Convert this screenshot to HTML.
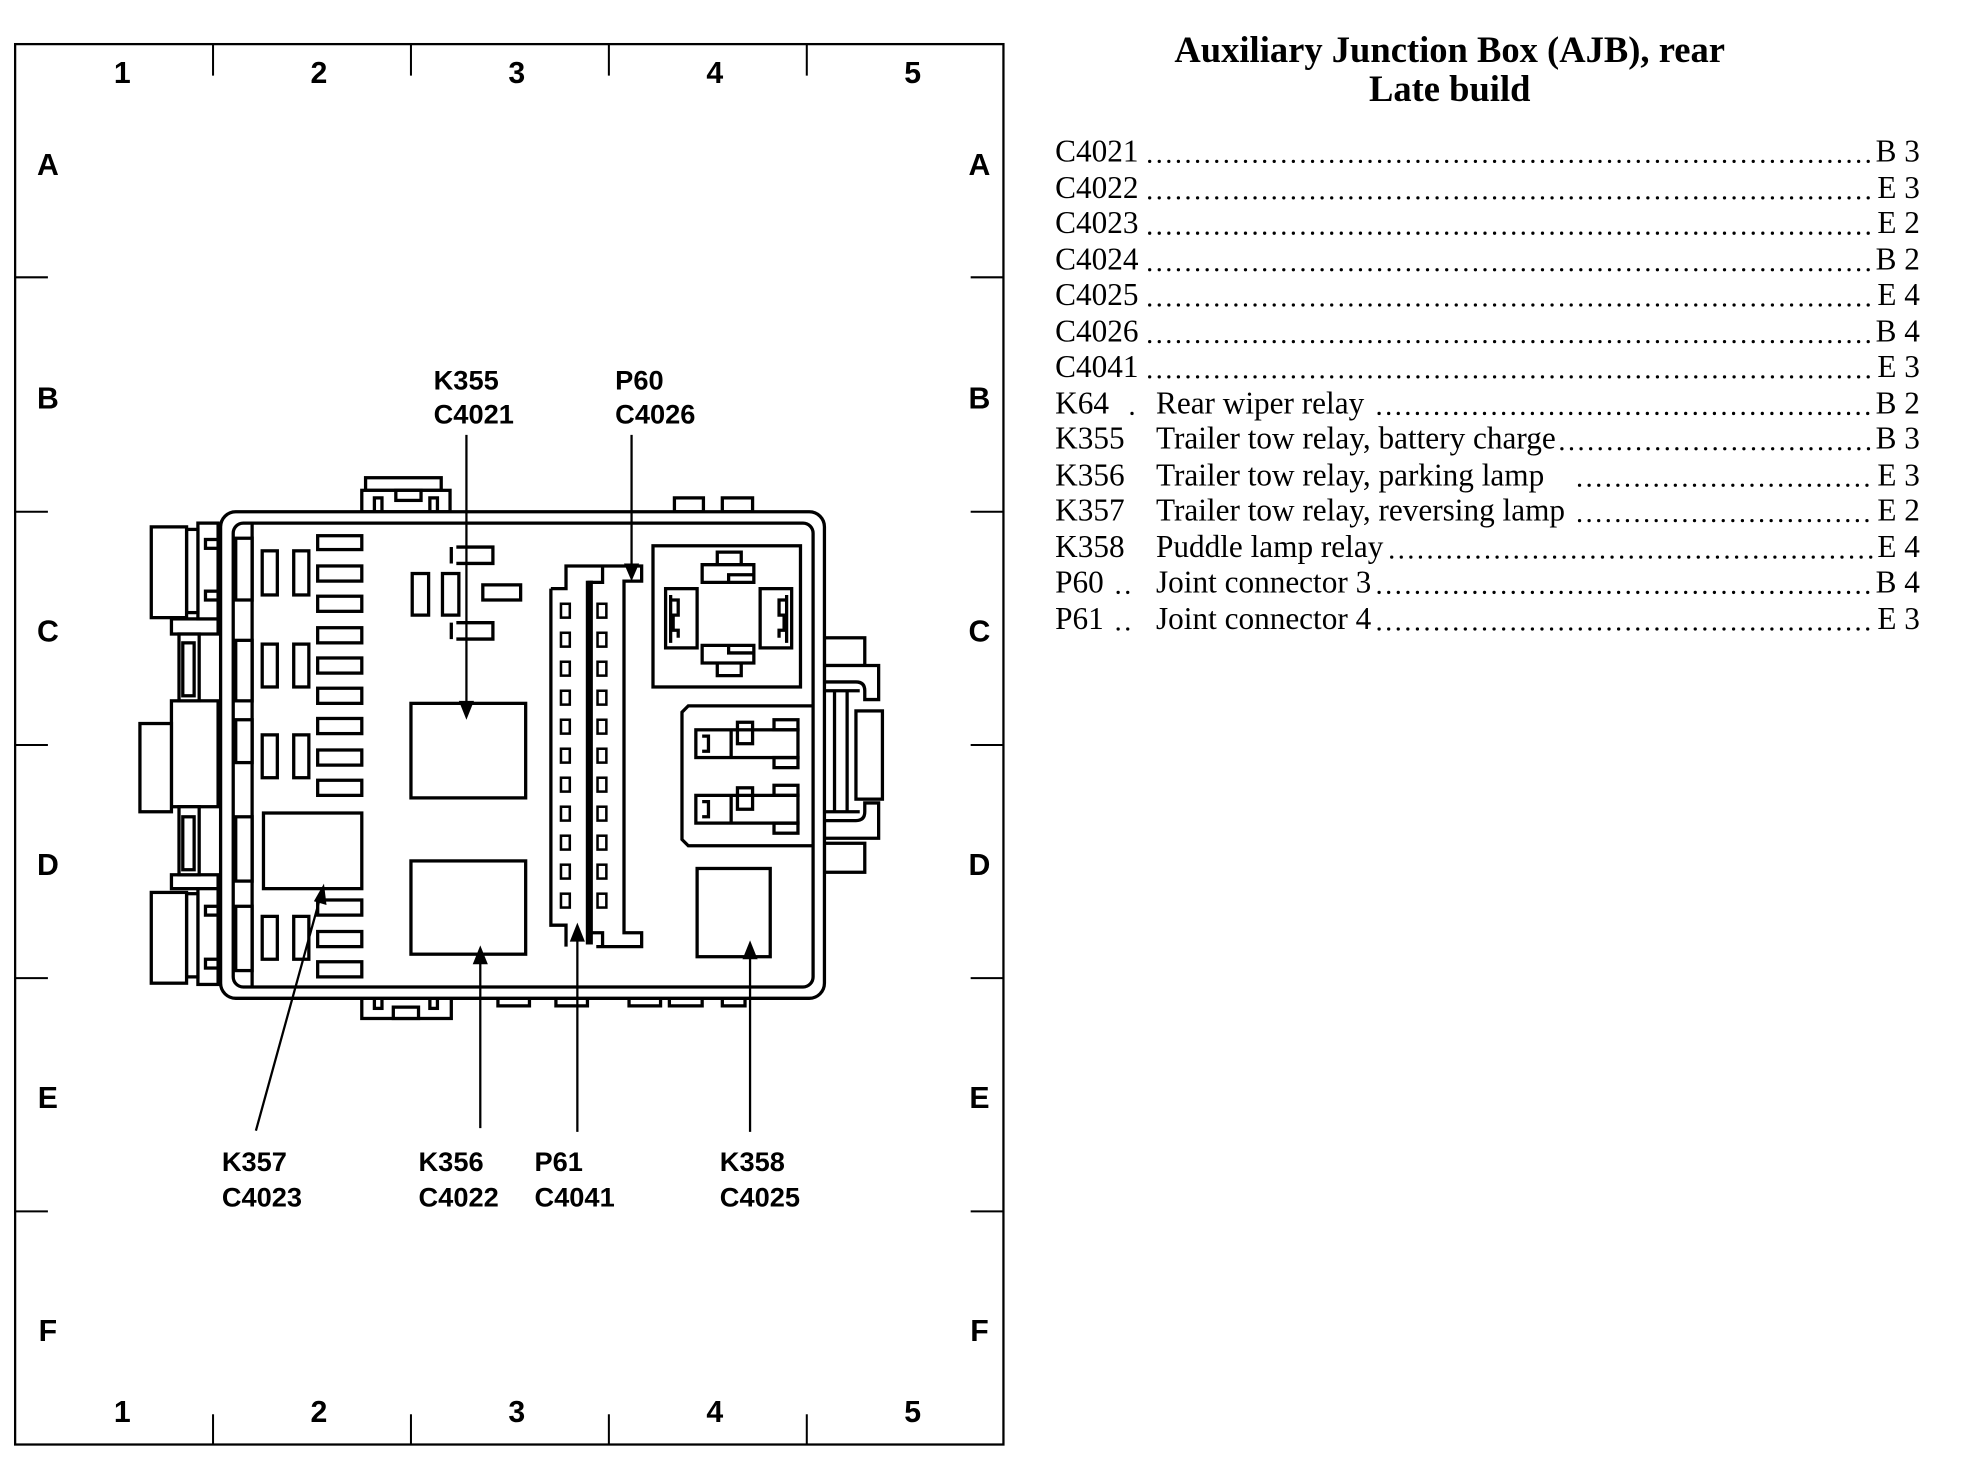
<!DOCTYPE html>
<html><head><meta charset="utf-8"><style>
html,body{margin:0;padding:0;background:#fff;}
svg{display:block;}
.g{font-family:"Liberation Sans",sans-serif;font-weight:bold;font-size:24px;fill:#000;}
.l{font-family:"Liberation Sans",sans-serif;font-weight:bold;font-size:21.6px;fill:#000;}
.t{font-family:"Liberation Serif",serif;font-size:24.8px;fill:#000;}
.h{font-family:"Liberation Serif",serif;font-weight:bold;font-size:29px;fill:#000;}
.s{fill:none;stroke:#000;stroke-width:2.6;}
.f{fill:#fff;stroke:#000;stroke-width:2.6;}
.d{stroke:#000;stroke-width:2.6;stroke-linecap:round;stroke-dasharray:0 7.6;}
</style></head><body>
<svg width="1976" height="1472" viewBox="0 0 1567.5 1167.8" preserveAspectRatio="none" xmlns="http://www.w3.org/2000/svg">
<rect x="12" y="35" width="784" height="1111" fill="none" stroke="#000" stroke-width="1.8"/>
<g stroke="#000" stroke-width="1.6">
<line x1="169" y1="35" x2="169" y2="60"/><line x1="326" y1="35" x2="326" y2="60"/><line x1="483" y1="35" x2="483" y2="60"/><line x1="640" y1="35" x2="640" y2="60"/>
<line x1="169" y1="1122" x2="169" y2="1146"/><line x1="326" y1="1122" x2="326" y2="1146"/><line x1="483" y1="1122" x2="483" y2="1146"/><line x1="640" y1="1122" x2="640" y2="1146"/>
<line x1="12" y1="220" x2="38" y2="220"/><line x1="12" y1="406" x2="38" y2="406"/><line x1="12" y1="591" x2="38" y2="591"/><line x1="12" y1="776" x2="38" y2="776"/><line x1="12" y1="961" x2="38" y2="961"/>
<line x1="770" y1="220" x2="796" y2="220"/><line x1="770" y1="406" x2="796" y2="406"/><line x1="770" y1="591" x2="796" y2="591"/><line x1="770" y1="776" x2="796" y2="776"/><line x1="770" y1="961" x2="796" y2="961"/>
</g>
<g class="g" text-anchor="middle">
<text x="97" y="66">1</text><text x="253" y="66">2</text><text x="410" y="66">3</text><text x="567" y="66">4</text><text x="724" y="66">5</text>
<text x="97" y="1128">1</text><text x="253" y="1128">2</text><text x="410" y="1128">3</text><text x="567" y="1128">4</text><text x="724" y="1128">5</text>
<text x="38" y="139">A</text><text x="38" y="324">B</text><text x="38" y="509">C</text><text x="38" y="694">D</text><text x="38" y="879">E</text><text x="38" y="1064">F</text>
<text x="777" y="139">A</text><text x="777" y="324">B</text><text x="777" y="509">C</text><text x="777" y="694">D</text><text x="777" y="879">E</text><text x="777" y="1064">F</text>
</g>

<g class="f">
<rect x="136" y="491" width="37" height="12"/>
<rect x="136" y="694" width="37" height="11"/>
<rect x="136" y="556" width="37" height="84"/>
<rect x="142" y="503" width="16" height="53"/>
<rect x="142" y="640" width="16" height="54"/>
<rect x="111" y="574" width="25" height="70"/>
<rect x="157" y="415" width="16" height="76"/>
<rect x="148" y="420" width="9" height="66"/>
<rect x="120" y="418" width="28" height="72"/>
<rect x="157" y="705" width="16" height="76"/>
<rect x="148" y="709" width="9" height="66"/>
<rect x="120" y="708" width="28" height="72"/>
<rect x="163" y="428" width="10" height="7"/><rect x="163" y="469" width="10" height="7"/>
<rect x="163" y="719" width="10" height="7"/><rect x="163" y="761" width="10" height="7"/>
<rect x="145" y="510" width="9" height="42"/><rect x="145" y="648" width="9" height="42"/>
</g>
<g class="f">
<rect x="654" y="506" width="32" height="22"/>
<rect x="654" y="669" width="32" height="23"/>
<path d="M654 528 H697 V555 H686 V548 Q686 541 679 541 H654 Z"/>
<path d="M654 665 H697 V637 H686 V644 Q686 651 679 651 H654 Z"/>
<rect x="679" y="564" width="21" height="70"/>
</g>
<g class="s"><line x1="662" y1="548" x2="662" y2="645"/><line x1="672" y1="548" x2="672" y2="645"/><line x1="654" y1="548" x2="682" y2="548"/><line x1="654" y1="644" x2="682" y2="644"/></g>
<g class="f">
<rect x="290" y="379" width="60" height="10"/>
<rect x="287" y="389" width="70" height="17"/>
<rect x="297" y="395" width="6" height="11"/><rect x="341" y="395" width="6" height="11"/><rect x="314" y="389" width="20" height="8"/>
<rect x="535" y="395" width="23" height="11"/><rect x="573" y="395" width="24" height="11"/>
<rect x="287" y="792" width="71" height="16"/>
<rect x="297" y="792" width="6" height="8"/><rect x="341" y="792" width="6" height="8"/><rect x="312" y="799" width="20" height="9"/>
<rect x="395" y="792" width="25" height="6"/><rect x="441" y="792" width="25" height="6"/><rect x="499" y="792" width="25" height="6"/><rect x="531" y="792" width="26" height="6"/><rect x="573" y="792" width="18" height="6"/>
</g>
<rect x="175" y="406" width="479" height="386" rx="12" class="f"/>
<rect x="185" y="415" width="460" height="368" rx="8" class="s"/>
<line x1="200" y1="415" x2="200" y2="783" class="s"/>
<g class="s">
<rect x="187" y="427" width="13" height="49"/><rect x="187" y="508" width="13" height="48"/><rect x="187" y="571" width="13" height="34"/><rect x="187" y="648" width="13" height="51"/><rect x="187" y="719" width="13" height="51"/>
<rect x="208" y="437" width="12" height="35"/><rect x="233" y="437" width="12" height="35"/>
<rect x="208" y="511" width="12" height="34"/><rect x="233" y="511" width="12" height="34"/>
<rect x="208" y="583" width="12" height="34"/><rect x="233" y="583" width="12" height="34"/>
<rect x="208" y="727" width="12" height="34"/><rect x="233" y="727" width="12" height="34"/>
<rect x="252" y="425" width="35" height="11"/><rect x="252" y="449" width="35" height="12"/><rect x="252" y="473" width="35" height="12"/>
<rect x="252" y="498" width="35" height="12"/><rect x="252" y="522" width="35" height="12"/><rect x="252" y="546" width="35" height="12"/>
<rect x="252" y="570" width="35" height="12"/><rect x="252" y="595" width="35" height="12"/><rect x="252" y="619" width="35" height="12"/>
<rect x="252" y="714" width="35" height="12"/><rect x="252" y="739" width="35" height="12"/><rect x="252" y="763" width="35" height="12"/>
<rect x="209" y="645" width="78" height="60"/>
<rect x="326" y="558" width="91" height="75"/>
<rect x="326" y="683" width="91" height="74"/>
<rect x="327" y="455" width="13" height="33"/><rect x="351" y="455" width="13" height="33"/>
<rect x="383" y="464" width="30" height="12"/>
<path d="M362 434 H391 V447 H362 M358 434 V447"/>
<path d="M362 494 H391 V507 H362 M358 494 V507"/>
<path d="M437 467 H449 V449 H509 V461 H495 V740 H509 V751 H473"/>
<path d="M449 751 V734 H437 V467"/>
<rect x="466" y="462" width="3" height="286" fill="#000"/>
<path d="M466 462 H478 V449 M466 740 H478 V751"/>
<rect x="518" y="433" width="117" height="112"/>
<path d="M557 448 H598 V462 H557 Z M569 448 V438 H588 V448 M578 462 V456 H598"/>
<path d="M557 512 H598 V526 H557 Z M569 526 V536 H588 V526 M578 512 V518 H598"/>
<rect x="528" y="467" width="25" height="47"/><path d="M532 472 V510 M532 476 H538 V488 H534 V500 H538 V506"/>
<rect x="603" y="467" width="25" height="47"/><path d="M624 472 V510 M624 476 H618 V488 H622 V500 H618 V506"/>
<path d="M645 560 H546 L541 565 V666 L546 671 H645"/>
<rect x="552" y="579" width="81" height="22"/><line x1="580" y1="579" x2="580" y2="601"/><rect x="585" y="573" width="12" height="17"/><rect x="614" y="571" width="19" height="8"/><rect x="614" y="601" width="19" height="8"/><path d="M557 584 H562 V596 H557"/>
<rect x="552" y="631" width="81" height="22"/><line x1="580" y1="631" x2="580" y2="653"/><rect x="585" y="625" width="12" height="17"/><rect x="614" y="623" width="19" height="8"/><rect x="614" y="653" width="19" height="8"/><path d="M557 636 H562 V648 H557"/>
<rect x="553" y="689" width="58" height="70"/>
</g>
<g fill="#fff" stroke="#000" stroke-width="2">
<rect x="445" y="479" width="7" height="11"/><rect x="445" y="502" width="7" height="11"/><rect x="445" y="525" width="7" height="11"/><rect x="445" y="548" width="7" height="11"/><rect x="445" y="571" width="7" height="11"/><rect x="445" y="594" width="7" height="11"/><rect x="445" y="617" width="7" height="11"/><rect x="445" y="640" width="7" height="11"/><rect x="445" y="663" width="7" height="11"/><rect x="445" y="686" width="7" height="11"/><rect x="445" y="709" width="7" height="11"/>
<rect x="474" y="479" width="7" height="11"/><rect x="474" y="502" width="7" height="11"/><rect x="474" y="525" width="7" height="11"/><rect x="474" y="548" width="7" height="11"/><rect x="474" y="571" width="7" height="11"/><rect x="474" y="594" width="7" height="11"/><rect x="474" y="617" width="7" height="11"/><rect x="474" y="640" width="7" height="11"/><rect x="474" y="663" width="7" height="11"/><rect x="474" y="686" width="7" height="11"/><rect x="474" y="709" width="7" height="11"/>
</g>
<g stroke="#000" stroke-width="1.8" fill="none">
<line x1="370" y1="345" x2="370" y2="560"/>
<line x1="501" y1="345" x2="501" y2="450"/>
<line x1="203" y1="897" x2="254" y2="712"/>
<line x1="381" y1="895" x2="381" y2="762"/>
<line x1="458" y1="898" x2="458" y2="742"/>
<line x1="595" y1="898" x2="595" y2="758"/>
</g>
<g fill="#000">
<polygon points="364,556 376,556 370,571"/>
<polygon points="495,447 507,447 501,461"/>
<polygon points="249,715 259,718 257,701"/>
<polygon points="375,765 387,765 381,750"/>
<polygon points="452,747 464,747 458,732"/>
<polygon points="589,761 601,761 595,746"/>
</g>
<g class="l">
<text x="344" y="309">K355</text><text x="344" y="336">C4021</text>
<text x="488" y="309">P60</text><text x="488" y="336">C4026</text>
<text x="176" y="929">K357</text><text x="176" y="957">C4023</text>
<text x="332" y="929">K356</text><text x="332" y="957">C4022</text>
<text x="424" y="929">P61</text><text x="424" y="957">C4041</text>
<text x="571" y="929">K358</text><text x="571" y="957">C4025</text>
</g>

<text class="h" x="1150" y="49" text-anchor="middle">Auxiliary Junction Box (AJB), rear</text>
<text class="h" x="1150" y="80" text-anchor="middle">Late build</text>
<g class="t">
<text x="837" y="128">C4021</text><text x="1523" y="128" text-anchor="end">B 3</text>
<text x="837" y="157">C4022</text><text x="1523" y="157" text-anchor="end">E 3</text>
<text x="837" y="185">C4023</text><text x="1523" y="185" text-anchor="end">E 2</text>
<text x="837" y="214">C4024</text><text x="1523" y="214" text-anchor="end">B 2</text>
<text x="837" y="242">C4025</text><text x="1523" y="242" text-anchor="end">E 4</text>
<text x="837" y="271">C4026</text><text x="1523" y="271" text-anchor="end">B 4</text>
<text x="837" y="299">C4041</text><text x="1523" y="299" text-anchor="end">E 3</text>
<text x="837" y="328">K64</text><text x="917" y="328">Rear wiper relay</text><text x="1523" y="328" text-anchor="end">B 2</text>
<text x="837" y="356">K355</text><text x="917" y="356">Trailer tow relay, battery charge</text><text x="1523" y="356" text-anchor="end">B 3</text>
<text x="837" y="385">K356</text><text x="917" y="385">Trailer tow relay, parking lamp</text><text x="1523" y="385" text-anchor="end">E 3</text>
<text x="837" y="413">K357</text><text x="917" y="413">Trailer tow relay, reversing lamp</text><text x="1523" y="413" text-anchor="end">E 2</text>
<text x="837" y="442">K358</text><text x="917" y="442">Puddle lamp relay</text><text x="1523" y="442" text-anchor="end">E 4</text>
<text x="837" y="470">P60</text><text x="917" y="470">Joint connector 3</text><text x="1523" y="470" text-anchor="end">B 4</text>
<text x="837" y="499">P61</text><text x="917" y="499">Joint connector 4</text><text x="1523" y="499" text-anchor="end">E 3</text>
</g>
<g class="d">
<line x1="912" y1="128" x2="1485" y2="128"/>
<line x1="912" y1="157" x2="1485" y2="157"/>
<line x1="912" y1="185" x2="1485" y2="185"/>
<line x1="912" y1="214" x2="1485" y2="214"/>
<line x1="912" y1="242" x2="1485" y2="242"/>
<line x1="912" y1="271" x2="1485" y2="271"/>
<line x1="912" y1="299" x2="1485" y2="299"/>
<line x1="898" y1="328" x2="899" y2="328"/><line x1="1094" y1="328" x2="1485" y2="328"/>
<line x1="1239" y1="356" x2="1485" y2="356"/>
<line x1="1253" y1="385" x2="1485" y2="385"/>
<line x1="1253" y1="413" x2="1485" y2="413"/>
<line x1="1104" y1="442" x2="1485" y2="442"/>
<line x1="887" y1="470" x2="898" y2="470"/><line x1="1094" y1="470" x2="1485" y2="470"/>
<line x1="887" y1="499" x2="898" y2="499"/><line x1="1094" y1="499" x2="1485" y2="499"/>
</g>
</svg>
</body></html>
